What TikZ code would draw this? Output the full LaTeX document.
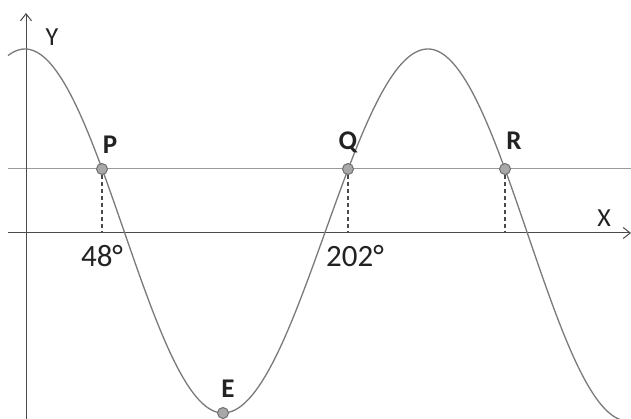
\documentclass[tikz,border=0pt]{standalone}
\usepackage{fontspec}
\setmainfont{Carlito}
\usetikzlibrary{arrows.meta}
\definecolor{curvegray}{HTML}{7A7A7A}
\definecolor{axisgray}{HTML}{4A4A4A}
\definecolor{linegray}{HTML}{9A9A9A}
\definecolor{dotfill}{HTML}{A8A8A8}
\definecolor{dotedge}{HTML}{6E6E6E}
\definecolor{txt}{HTML}{222222}
\tikzset{
  axisline/.style={draw=axisgray, line width=1pt},
  levelline/.style={draw=linegray, line width=1pt},
  wave/.style={draw=curvegray, line width=1.3pt},
  dropline/.style={draw=axisgray, line width=1.3pt, dash pattern=on 4pt off 3pt},
  pt/.style={circle, fill=dotfill, draw=dotedge, line width=1pt, minimum size=11pt, inner sep=0pt},
  ptlabel/.style={anchor=base, font=\fontsize{27}{27}\selectfont\bfseries, text=txt, inner sep=0pt},
  axlabel/.style={anchor=base, font=\fontsize{26}{26}\selectfont, text=txt, inner sep=0pt},
  numlabel/.style={anchor=base, font=\fontsize{31}{31}\selectfont, text=txt, inner sep=0pt},
  tip/.style={-{Straight Barb[length=7pt,width=11pt,line width=1pt]}}
}
\begin{document}
\begin{tikzpicture}[x=1pt,y=-1pt]
\useasboundingbox[fill=white] (0,0) rectangle (631,419);
% coordinates
\coordinate (xl) at (8,233);
\coordinate (xr) at (631,233);
\coordinate (yb) at (26,419);
\coordinate (yt) at (26,13);
\coordinate (hl) at (8,169);
\coordinate (hr) at (631,169);
% level line and axes
\draw[levelline] (hl) -- (hr);
\draw[axisline, tip] (xl) -- (xr);
\draw[axisline, tip] (yb) -- (yt);
% curve
\draw[wave] plot[domain=8:223, samples=90, smooth] (\x, {49 + 182*(1 - cos((\x-25)/198*180))});
\draw[wave] plot[domain=223:428, samples=90, smooth] (\x, {49 + 182*(1 - cos((428-\x)/205*180))});
\draw[wave] plot[domain=428:631, samples=90, smooth] (\x, {49 + 186*(1 - cos((\x-428)/200*180))});
% points
\node[pt] (P) at (102,169) {};
\node[pt] (Q) at (348,169) {};
\node[pt] (R) at (505,169) {};
\node[pt] (E) at (223,413) {};
% drop lines
\draw[dropline] (P.south) -- (P |- xl);
\draw[dropline] (Q.south) -- (Q |- xl);
\draw[dropline] (R.south) -- (R |- xl);
% labels
\node[ptlabel] (lp) at (110,154) {P};
\node[ptlabel] (lq) at (348,150) {Q};
\node[ptlabel] (lr) at (514,150) {R};
\node[ptlabel] (le) at (228,397) {E};
\node[axlabel] (lx) at (604,227) {X};
\node[axlabel] (ly) at (52,46) {Y};
\node[numlabel] (l48) at (102,267) {48°};
\node[numlabel] (l202) at (355,267) {202°};
\end{tikzpicture}
\end{document}
